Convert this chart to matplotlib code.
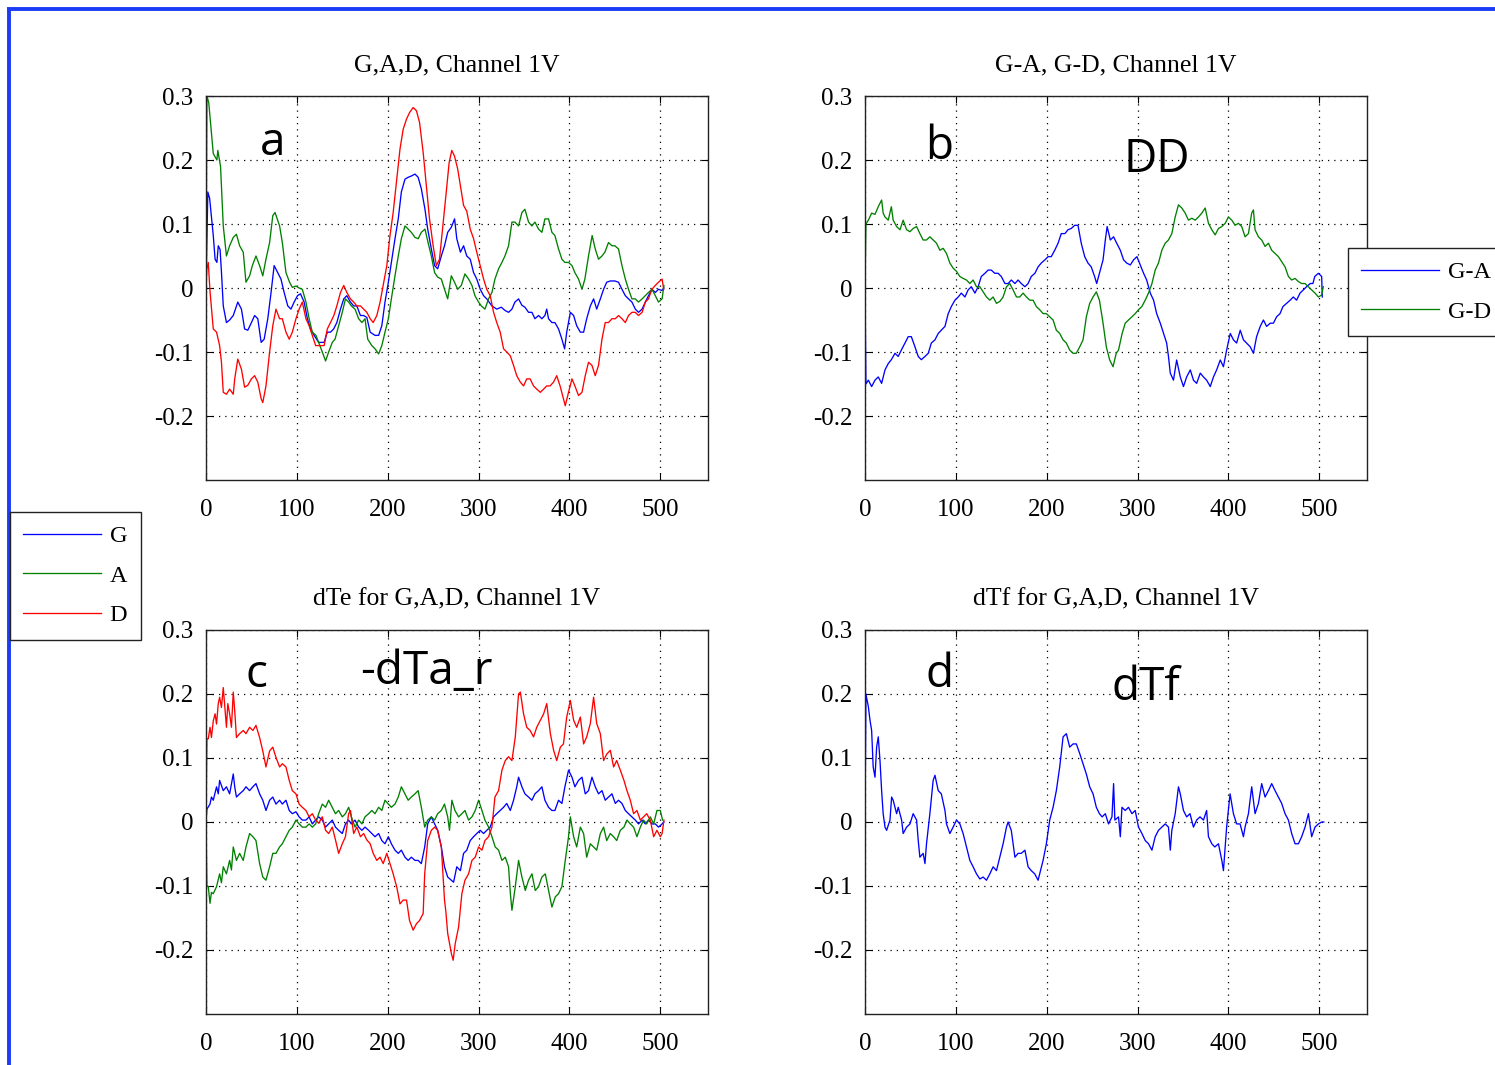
import matplotlib
matplotlib.use("Agg")
import matplotlib.pyplot as plt
from matplotlib.lines import Line2D

plt.rcParams['font.family'] = ['Liberation Serif', 'DejaVu Serif']
plt.rcParams['axes.unicode_minus'] = False

W, H = 1495, 1065

# ---------------- data: panel a (G, A, D) ----------------
a_G_x = [0, 2, 4, 8, 10, 12, 13.5, 15.5, 17, 19, 22.5, 26, 30, 33.5, 35, 39, 42.5, 46, 50, 53.5, 57, 60.7, 64, 68, 71.6, 75, 79, 82.5, 86, 90, 93.5, 97, 100.7, 104, 108, 111.6, 115, 119, 124, 130, 133.5, 137, 140.5, 144, 148, 151.6, 155, 159, 162.5, 166, 170, 173.5, 177, 180.7, 186, 190, 193.5, 197, 200.7, 204, 208, 211.6, 215, 219, 222.5, 226, 230, 233.5, 237, 241, 244, 248, 251.6, 255, 259, 262.5, 266, 270, 273.6, 276, 280, 283.5, 287, 290.8, 294.5, 298, 301.8, 305.5, 309, 314.7, 320, 325, 329, 333, 336.7, 340, 344, 347.7, 351, 355, 358.7, 362, 366, 369.7, 373, 375, 377, 380.7, 384, 388, 391.7, 394.7, 397, 401, 404.6, 408, 412, 415.6, 419, 423, 426.6, 430, 434, 437.6, 441, 445, 450, 454, 457.8, 461.5, 465, 468.8, 472.5, 476, 480, 483.5, 487, 490.8, 494.5, 498, 502, 504]
a_G_y = [0.0, 0.15, 0.14, 0.082, 0.045, 0.04, 0.066, 0.06, 0.025, -0.028, -0.054, -0.05, -0.043, -0.028, -0.022, -0.033, -0.064, -0.066, -0.054, -0.043, -0.048, -0.085, -0.08, -0.048, -0.007, 0.035, 0.024, 0.014, -0.007, -0.028, -0.033, -0.022, -0.012, -0.009, -0.022, -0.048, -0.064, -0.074, -0.085, -0.085, -0.069, -0.069, -0.064, -0.054, -0.033, -0.017, -0.012, -0.022, -0.028, -0.028, -0.043, -0.043, -0.046, -0.069, -0.074, -0.074, -0.059, -0.022, 0.009, 0.04, 0.077, 0.108, 0.15, 0.17, 0.173, 0.175, 0.178, 0.173, 0.155, 0.123, 0.092, 0.061, 0.035, 0.03, 0.05, 0.066, 0.087, 0.095, 0.108, 0.077, 0.056, 0.066, 0.05, 0.045, 0.024, 0.014, -0.002, -0.012, -0.017, -0.028, -0.033, -0.03, -0.035, -0.038, -0.033, -0.022, -0.017, -0.027, -0.03, -0.038, -0.038, -0.048, -0.043, -0.048, -0.043, -0.033, -0.048, -0.054, -0.054, -0.064, -0.08, -0.095, -0.069, -0.038, -0.043, -0.059, -0.069, -0.069, -0.048, -0.028, -0.017, -0.033, -0.017, -0.002, 0.009, 0.011, 0.011, 0.009, -0.002, -0.012, -0.017, -0.022, -0.033, -0.038, -0.033, -0.022, -0.012, -0.002, -0.007, -0.002, -0.004, 0.0]

a_A_x = [0, 1, 3, 8, 12, 13, 16, 19, 22.5, 26, 30, 33.5, 37, 41, 44, 48, 51, 55, 59, 62.5, 66, 70, 73.5, 76, 81, 84, 88, 92, 95, 99, 102.5, 106, 110, 113.5, 117, 121, 128, 131.6, 135, 139, 142, 146, 150, 153.5, 157, 160, 164, 168, 171.6, 175, 178, 182.5, 186, 190, 193.5, 197, 200.7, 204, 208, 211.6, 215, 219, 222.5, 226, 230, 233.5, 237, 241, 244.4, 248, 251.6, 255, 259, 262.5, 266, 270, 273.5, 277, 281, 285, 289, 292.7, 296, 300, 303, 307, 311, 314.7, 318, 322, 325.7, 329, 333, 336.7, 340, 344, 347.7, 351, 355, 358.7, 362, 366, 369.7, 373, 377, 380.7, 384, 388, 391.7, 395, 399, 402.8, 406, 410, 413.8, 417, 421, 425, 428.4, 432, 435.8, 439, 443, 446.8, 450, 454, 457.8, 461.5, 465, 468.8, 472.5, 476, 480, 483.5, 487, 490.8, 494.5, 498, 502, 504]
a_A_y = [0.0, 0.3, 0.29, 0.21, 0.2, 0.215, 0.19, 0.097, 0.05, 0.066, 0.079, 0.084, 0.066, 0.056, 0.009, 0.019, 0.035, 0.05, 0.035, 0.019, 0.045, 0.071, 0.113, 0.118, 0.097, 0.071, 0.024, 0.009, 0.001, 0.003, 0.0, -0.002, -0.022, -0.048, -0.069, -0.074, -0.1, -0.114, -0.1, -0.085, -0.08, -0.059, -0.038, -0.017, -0.022, -0.028, -0.033, -0.048, -0.054, -0.048, -0.08, -0.09, -0.095, -0.103, -0.09, -0.069, -0.048, -0.017, 0.019, 0.05, 0.077, 0.097, 0.092, 0.087, 0.079, 0.077, 0.087, 0.092, 0.071, 0.05, 0.024, 0.017, 0.014, -0.002, -0.017, 0.019, 0.009, -0.002, 0.004, 0.022, 0.014, 0.004, -0.012, -0.022, -0.028, -0.033, -0.017, -0.007, 0.014, 0.03, 0.04, 0.05, 0.066, 0.103, 0.103, 0.097, 0.118, 0.123, 0.103, 0.097, 0.103, 0.092, 0.087, 0.108, 0.108, 0.087, 0.082, 0.061, 0.045, 0.04, 0.04, 0.035, 0.024, 0.014, -0.002, 0.014, 0.05, 0.082, 0.061, 0.045, 0.05, 0.056, 0.071, 0.066, 0.066, 0.061, 0.035, 0.014, -0.002, -0.017, -0.017, -0.022, -0.017, -0.012, -0.007, -0.002, -0.012, -0.022, -0.017, 0.004]

a_D_x = [0, 1, 2.5, 4.4, 8, 11.6, 15, 17, 19, 22.5, 26, 30, 31.6, 35, 39, 42.5, 46, 50, 53.5, 57, 60.7, 62.5, 66, 70, 73.5, 77, 81, 84, 88, 91.6, 95, 99, 102.5, 106, 110, 113.5, 117, 120.7, 124, 130, 133.5, 137, 140.7, 144, 148, 151.6, 155, 159, 162.5, 166, 170, 173.5, 177, 180.7, 184, 188, 191.6, 195, 199, 202.5, 206, 210, 213.5, 217, 220.7, 224, 228, 231.6, 235, 239, 242.5, 246, 250, 253.5, 257, 260.7, 264, 267.6, 270.5, 273.5, 277, 280, 283.5, 287, 290.8, 294.5, 298, 301.8, 305.5, 309, 312.8, 316.5, 320, 323.8, 327.5, 331, 334.9, 338.5, 342, 345.9, 349.5, 353, 356.7, 360.5, 364, 368, 371.6, 375, 378.7, 382.5, 386, 389.7, 393.4, 395.4, 399, 402.8, 406, 410, 413.8, 417.4, 421, 424.8, 428.4, 432, 435.8, 439.4, 443, 446.8, 450.5, 454, 457.8, 461.5, 465, 468.8, 472.5, 476, 480, 483.5, 487, 490.8, 494.5, 498, 502, 503.7]
a_D_y = [0.0, 0.03, 0.04, -0.005, -0.064, -0.069, -0.09, -0.116, -0.163, -0.166, -0.158, -0.166, -0.142, -0.111, -0.127, -0.155, -0.152, -0.142, -0.137, -0.147, -0.173, -0.179, -0.153, -0.1, -0.059, -0.033, -0.048, -0.048, -0.069, -0.08, -0.069, -0.048, -0.033, -0.022, -0.048, -0.059, -0.074, -0.09, -0.09, -0.09, -0.064, -0.054, -0.043, -0.028, -0.007, 0.004, -0.007, -0.017, -0.022, -0.028, -0.028, -0.033, -0.038, -0.048, -0.054, -0.043, -0.022, 0.004, 0.035, 0.082, 0.118, 0.17, 0.217, 0.248, 0.264, 0.274, 0.282, 0.277, 0.259, 0.212, 0.16, 0.108, 0.066, 0.035, 0.045, 0.097, 0.144, 0.196, 0.215, 0.206, 0.186, 0.16, 0.129, 0.12, 0.092, 0.077, 0.056, 0.035, 0.014, -0.002, -0.012, -0.038, -0.054, -0.069, -0.095, -0.1, -0.106, -0.121, -0.137, -0.147, -0.153, -0.142, -0.142, -0.153, -0.158, -0.163, -0.158, -0.153, -0.153, -0.147, -0.137, -0.153, -0.173, -0.184, -0.163, -0.142, -0.153, -0.168, -0.163, -0.137, -0.116, -0.121, -0.137, -0.121, -0.08, -0.054, -0.054, -0.048, -0.048, -0.043, -0.048, -0.054, -0.043, -0.038, -0.038, -0.043, -0.038, -0.022, -0.017, -0.002, 0.004, 0.009, 0.014, -0.002]

# ---------------- data: panel b (G-A, G-D) ----------------
b_GA_x = [0, 1, 3.7, 7.3, 11, 14.6, 18.3, 22, 25.6, 29, 33, 36.5, 40, 44, 47.6, 51, 55, 58.6, 62, 66, 69.6, 73, 77, 80.6, 84, 88, 91.6, 95, 99, 102.6, 106, 110, 113.5, 117, 121, 124.5, 128, 132, 135.5, 139, 142.8, 146.5, 150, 154, 157.5, 161, 165, 168.5, 172, 176, 179.5, 183, 187, 190.5, 194, 198, 201.5, 205, 208.8, 212.5, 216, 220, 223.4, 227, 230.8, 234.4, 238, 241.8, 245.4, 249, 252.7, 255, 258, 262, 264.5, 266.5, 270, 273.6, 277, 281, 284.6, 288, 292, 295.6, 299.3, 303, 306.6, 310, 314, 317.6, 321, 325, 328.6, 332, 334, 336, 339.5, 343, 347, 350.5, 354, 358, 361.5, 365, 369, 372.5, 376, 380, 383.5, 387, 391, 394.5, 398, 402, 405.5, 409, 413, 416.5, 420, 424, 427.5, 431, 435, 438.5, 442, 446, 449.5, 453, 456.8, 460, 464, 468, 471.4, 475, 478.8, 482.4, 486, 490, 493, 495, 499, 502.6, 503.3]
b_GA_y = [0.0, -0.15, -0.144, -0.154, -0.144, -0.139, -0.149, -0.128, -0.118, -0.112, -0.102, -0.107, -0.097, -0.086, -0.076, -0.076, -0.092, -0.107, -0.112, -0.107, -0.102, -0.086, -0.081, -0.071, -0.066, -0.06, -0.04, -0.029, -0.019, -0.014, -0.008, -0.014, -0.003, 0.002, -0.008, 0.002, 0.018, 0.023, 0.028, 0.028, 0.023, 0.023, 0.018, 0.007, 0.007, 0.0125, 0.007, 0.0125, 0.007, 0.002, 0.007, 0.018, 0.023, 0.033, 0.039, 0.044, 0.049, 0.049, 0.059, 0.07, 0.085, 0.085, 0.091, 0.093, 0.098, 0.098, 0.07, 0.049, 0.039, 0.033, 0.018, 0.007, 0.023, 0.044, 0.075, 0.096, 0.075, 0.08, 0.07, 0.059, 0.044, 0.039, 0.036, 0.044, 0.049, 0.036, 0.023, 0.0125, -0.008, -0.019, -0.04, -0.055, -0.071, -0.086, -0.107, -0.133, -0.144, -0.1125, -0.139, -0.154, -0.139, -0.128, -0.144, -0.149, -0.133, -0.139, -0.144, -0.154, -0.139, -0.128, -0.1125, -0.123, -0.097, -0.071, -0.081, -0.086, -0.066, -0.081, -0.086, -0.092, -0.102, -0.076, -0.06, -0.05, -0.06, -0.055, -0.055, -0.045, -0.04, -0.029, -0.024, -0.019, -0.014, -0.019, -0.008, -0.003, 0.002, 0.007, 0.007, 0.018, 0.023, 0.018, -0.014]

b_GD_x = [0, 1, 3.7, 7.3, 11, 14.6, 18.3, 20, 22, 25.6, 29, 31, 34.8, 38.5, 42, 45.8, 49.5, 53, 56.8, 60.4, 64, 67.7, 71.4, 75, 78.7, 82.4, 86, 89.7, 93.4, 97, 100.7, 104.4, 108, 111.7, 115.4, 119, 122.7, 126.4, 130, 133.7, 137.4, 141, 144.7, 148.4, 152, 155.7, 159.3, 163, 166.7, 170.3, 174, 177.7, 181.3, 185, 188.6, 192.3, 196, 199.6, 203.3, 207, 210.6, 214.3, 218, 221.6, 225.3, 229, 232.6, 236.3, 240, 243.6, 247.3, 251, 254.6, 258, 262, 265.6, 269.3, 273, 276.5, 279, 283, 286.4, 290, 293.8, 297.4, 301, 304.7, 308.4, 312, 315.8, 319.4, 323, 326.7, 330.4, 334, 337.7, 341.4, 345, 348.7, 352.4, 356, 359.7, 363.4, 367, 370.7, 374.4, 378, 381.7, 385.4, 389, 392.7, 396.4, 400, 403.7, 407.3, 411, 414.6, 418.3, 422, 425.6, 427.5, 429.3, 433, 436.6, 440.3, 444, 447.6, 451.3, 455, 458.6, 462.3, 466, 469.6, 473.3, 477, 480.6, 484.3, 488, 491.6, 495.3, 499, 502.6, 504.4]
b_GD_y = [0.0, 0.1, 0.106, 0.117, 0.115, 0.127, 0.1375, 0.117, 0.111, 0.106, 0.127, 0.106, 0.096, 0.091, 0.106, 0.091, 0.088, 0.093, 0.096, 0.085, 0.075, 0.075, 0.08, 0.075, 0.07, 0.059, 0.062, 0.054, 0.039, 0.031, 0.026, 0.018, 0.015, 0.0125, 0.007, 0.0125, 0.002, 0.002, -0.006, -0.014, -0.019, -0.014, -0.024, -0.021, -0.014, 0.002, 0.007, -0.003, -0.014, -0.014, -0.008, -0.014, -0.019, -0.019, -0.029, -0.034, -0.04, -0.04, -0.045, -0.05, -0.066, -0.071, -0.081, -0.086, -0.097, -0.102, -0.102, -0.092, -0.081, -0.045, -0.024, -0.014, -0.006, -0.019, -0.055, -0.092, -0.1125, -0.123, -0.102, -0.097, -0.071, -0.055, -0.05, -0.045, -0.04, -0.034, -0.029, -0.019, -0.008, 0.007, 0.028, 0.039, 0.059, 0.07, 0.075, 0.085, 0.111, 0.13, 0.125, 0.117, 0.106, 0.109, 0.106, 0.111, 0.117, 0.125, 0.101, 0.091, 0.083, 0.093, 0.096, 0.101, 0.111, 0.106, 0.098, 0.101, 0.096, 0.08, 0.085, 0.117, 0.122, 0.091, 0.08, 0.075, 0.065, 0.07, 0.059, 0.054, 0.049, 0.041, 0.033, 0.018, 0.0125, 0.015, 0.01, 0.007, 0.007, 0.002, -0.003, -0.008, -0.014, -0.011, 0.002]

# ---------------- data: panel c (dTe for G, A, D) ----------------
c_G_x = [0, 1, 4.4, 6, 8, 11.6, 13.5, 15, 19, 22.5, 26, 30, 31.6, 33.5, 37, 41, 44, 48, 51.6, 55, 59, 62.5, 66, 70, 73.5, 77, 81, 84, 88, 91.6, 95, 99, 102.5, 106, 110, 113.5, 117, 120.7, 124, 128, 131.6, 135, 139, 142.5, 146, 150, 153.5, 157, 160, 164, 168, 171.6, 175, 179, 182.5, 186, 190, 193.5, 197, 200.7, 204, 208, 211.6, 215, 219, 222.5, 226, 230, 233.5, 237, 240.7, 244, 248, 251.6, 255, 259, 262.5, 266, 270, 272.5, 276, 280, 283.5, 287, 290.8, 294.5, 298, 301.8, 305.5, 309, 312.8, 316.5, 320, 323.8, 327.5, 331, 334.9, 338.5, 342, 344, 347.7, 351, 355, 358.7, 362, 366, 369.7, 373, 377, 380.7, 384, 388, 391.7, 395, 399, 402.8, 406, 410, 413.8, 417.4, 421, 424.8, 428.4, 432, 435.8, 439.4, 443, 446.8, 450.5, 454, 457.8, 461.5, 465, 468.8, 472.5, 476, 480, 483.5, 487, 490.8, 494.5, 498, 502, 504]
c_G_y = [0.0, 0.02, 0.028, 0.039, 0.034, 0.055, 0.044, 0.065, 0.049, 0.055, 0.044, 0.075, 0.055, 0.039, 0.044, 0.049, 0.055, 0.049, 0.055, 0.06, 0.044, 0.034, 0.018, 0.034, 0.039, 0.028, 0.034, 0.028, 0.034, 0.018, 0.013, 0.016, 0.008, 0.003, 0.003, 0.008, -0.003, 0.003, 0.008, 0.003, -0.008, -0.003, 0.003, -0.008, -0.013, -0.018, -0.003, 0.003, -0.003, 0.003, -0.008, -0.013, -0.008, -0.013, -0.018, -0.023, -0.018, -0.029, -0.034, -0.023, -0.034, -0.044, -0.049, -0.044, -0.055, -0.06, -0.055, -0.06, -0.06, -0.065, -0.039, -0.003, 0.008, -0.003, -0.013, -0.039, -0.07, -0.086, -0.091, -0.094, -0.07, -0.076, -0.049, -0.044, -0.029, -0.023, -0.018, -0.013, -0.018, -0.013, -0.008, 0.008, 0.013, 0.018, 0.023, 0.029, 0.018, 0.034, 0.055, 0.07, 0.055, 0.044, 0.039, 0.034, 0.044, 0.049, 0.055, 0.034, 0.023, 0.018, 0.018, 0.034, 0.029, 0.055, 0.081, 0.07, 0.055, 0.065, 0.07, 0.044, 0.049, 0.07, 0.055, 0.044, 0.049, 0.034, 0.039, 0.044, 0.029, 0.034, 0.029, 0.018, 0.013, 0.008, 0.003, -0.003, 0.003, -0.003, 0.003, -0.003, -0.003, -0.008, -0.003, 0.0]

c_A_x = [0, 1, 2.5, 4.4, 6, 8, 11.6, 15, 17, 19, 22.5, 26, 28, 30, 33.5, 37, 41, 44, 48, 51.6, 55, 59, 62.5, 66, 70, 73.5, 77, 81, 84, 88, 91.6, 95, 99, 102.5, 106, 110, 113.5, 117, 120.7, 124, 128, 131.6, 135, 139, 142.5, 146, 150, 153.5, 157, 160, 164, 168, 171.6, 175, 179, 182.5, 186, 190, 193.5, 197, 200.7, 204, 208, 211.6, 215, 219, 222.5, 226, 230, 233.5, 237, 240.7, 244, 248, 251.6, 255, 259, 262.5, 266, 268, 270.6, 274, 278, 281.6, 285, 289, 292.7, 296.3, 300, 303.7, 307, 311, 314.7, 318.3, 322, 325.7, 329.4, 333, 335, 336.7, 340.4, 344, 347.7, 351.4, 355, 358.7, 362.4, 366, 369.7, 373.4, 377, 380.7, 384.4, 388, 391.7, 395.4, 399, 401, 404.6, 408, 412, 415.6, 419, 423, 426.6, 430, 434, 437.6, 441, 445, 448.6, 452, 456, 460, 463.3, 467, 470.6, 474.3, 478, 481.6, 485, 489, 492.7, 496.3, 500, 502.5]
c_A_y = [0.0, -0.1, -0.101, -0.127, -0.11, -0.112, -0.101, -0.081, -0.095, -0.07, -0.081, -0.06, -0.075, -0.039, -0.06, -0.049, -0.06, -0.039, -0.018, -0.023, -0.029, -0.065, -0.086, -0.091, -0.07, -0.049, -0.049, -0.039, -0.034, -0.023, -0.013, -0.008, 0.003, -0.003, -0.008, -0.008, -0.003, -0.008, -0.003, 0.013, 0.028, 0.023, 0.034, 0.023, 0.013, 0.018, 0.008, 0.013, 0.023, 0.008, -0.008, 0.003, -0.003, 0.008, 0.013, 0.018, 0.013, 0.023, 0.018, 0.034, 0.028, 0.023, 0.028, 0.039, 0.055, 0.044, 0.034, 0.039, 0.044, 0.049, 0.023, -0.008, 0.003, 0.008, 0.003, 0.013, 0.018, 0.028, 0.008, -0.013, 0.034, 0.018, 0.008, 0.013, 0.018, 0.003, 0.008, 0.018, 0.034, 0.018, 0.003, -0.008, -0.023, -0.039, -0.044, -0.06, -0.055, -0.07, -0.112, -0.138, -0.101, -0.06, -0.086, -0.107, -0.091, -0.081, -0.107, -0.101, -0.086, -0.081, -0.107, -0.133, -0.117, -0.112, -0.101, -0.06, -0.023, 0.008, -0.023, -0.039, -0.008, -0.018, -0.055, -0.034, -0.039, -0.044, -0.018, -0.008, -0.029, -0.018, -0.023, -0.029, -0.013, -0.008, 0.003, -0.003, -0.008, -0.023, -0.008, 0.003, -0.003, 0.008, -0.003, 0.018, 0.018, 0.003]

c_D_x = [0, 1, 2.5, 4.4, 6, 8, 10, 11.6, 13.5, 15, 17, 19, 21, 22.5, 24, 26, 28, 30, 31.6, 33.5, 37, 41, 44, 48, 51.6, 55, 59, 62.5, 66, 70, 73.5, 77, 81, 84, 88, 91.6, 95, 99, 102.5, 106, 110, 113.5, 117, 120.7, 124, 128, 131.6, 135, 139, 142.5, 146, 150, 153.5, 157, 159, 162.5, 166, 170, 173.5, 177, 180.7, 184, 188, 191.6, 195, 199, 202.5, 206, 210, 213.5, 217, 220.7, 224, 228, 231.6, 235, 239, 240.7, 244, 248, 251.6, 255, 259, 262.5, 264, 266, 270, 272, 274.3, 278, 281.6, 285, 289, 292.7, 296.3, 300, 303.7, 307, 311, 314.7, 318, 322, 325.7, 329.4, 333, 336.7, 340.4, 344, 346, 349.5, 353, 356.7, 360.5, 364, 368, 371.6, 375, 379, 382.6, 386, 390, 393.4, 397, 401, 404.6, 408, 412, 415.6, 419, 423, 426.6, 430, 434, 437.6, 441, 445, 448.6, 452, 456, 460, 463.3, 467, 470.6, 474.3, 478, 481.6, 485, 489, 492.7, 496.3, 500, 502, 504]
c_D_y = [0.0, 0.13, 0.13, 0.148, 0.132, 0.158, 0.169, 0.153, 0.185, 0.195, 0.179, 0.21, 0.174, 0.148, 0.185, 0.169, 0.148, 0.203, 0.174, 0.132, 0.138, 0.143, 0.138, 0.148, 0.143, 0.151, 0.132, 0.111, 0.086, 0.111, 0.117, 0.101, 0.086, 0.091, 0.086, 0.065, 0.049, 0.044, 0.028, 0.023, 0.018, 0.008, 0.013, 0.003, -0.002, 0.008, -0.013, -0.018, -0.008, -0.028, -0.049, -0.034, -0.023, 0.013, 0.018, -0.018, -0.008, -0.023, -0.018, -0.028, -0.034, -0.049, -0.06, -0.055, -0.065, -0.049, -0.065, -0.081, -0.102, -0.128, -0.122, -0.122, -0.154, -0.169, -0.159, -0.154, -0.143, -0.081, -0.029, -0.013, -0.008, -0.013, -0.039, -0.122, -0.14, -0.174, -0.205, -0.216, -0.19, -0.164, -0.112, -0.091, -0.081, -0.06, -0.055, -0.039, -0.044, -0.029, -0.023, -0.008, 0.039, 0.049, 0.081, 0.096, 0.102, 0.096, 0.133, 0.2, 0.203, 0.169, 0.148, 0.143, 0.133, 0.148, 0.159, 0.169, 0.185, 0.138, 0.112, 0.096, 0.117, 0.122, 0.164, 0.19, 0.159, 0.148, 0.164, 0.122, 0.133, 0.154, 0.195, 0.154, 0.138, 0.096, 0.106, 0.112, 0.086, 0.096, 0.081, 0.065, 0.049, 0.034, 0.013, 0.018, 0.003, 0.008, 0.013, 0.003, -0.023, -0.013, -0.023, -0.018, 0.003]

# ---------------- data: panel d (dTf) ----------------
d_x = [0, 1, 3.7, 5.5, 7.3, 9, 11, 12.8, 14.6, 16.5, 18.3, 20, 22, 23.8, 25.6, 27.5, 29.3, 31, 34.8, 36.6, 40.3, 42, 45.8, 49.5, 53, 56.8, 58.6, 60.4, 64, 66, 67.7, 71.4, 75, 77, 80.6, 84, 88, 89.7, 93.4, 97, 100.7, 104.4, 108, 111.7, 115.4, 119, 122.7, 126.4, 130, 133.7, 137.4, 141, 144.7, 148.4, 152, 155.7, 157.5, 161, 165, 168.5, 172, 176, 179.5, 183, 186.8, 190.5, 192.3, 196, 199.6, 203.3, 207, 210.6, 214.3, 218, 221.6, 225.3, 229, 232.6, 236.3, 240, 243.6, 247.3, 251, 254.6, 258, 261, 264.5, 268, 271.8, 273.6, 275, 279, 281, 282.8, 286.4, 290, 293.8, 297.4, 301, 304.8, 308.4, 312, 315.8, 319.4, 323, 326.7, 330.4, 334, 336, 337.7, 341.4, 345, 347, 350.5, 354, 357.7, 361.5, 365, 368.7, 372.5, 376, 378, 381.7, 385, 389, 392.7, 394.5, 398, 401.8, 405.5, 409, 412.8, 416.5, 418.3, 422, 425.6, 429.3, 433, 436.6, 440.3, 444, 447.6, 451.3, 455, 458.6, 462.3, 466, 469.6, 473.3, 477, 480.6, 484.3, 488, 491.6, 495.3, 499, 502.6, 505]
d_y = [0.0, 0.2, 0.18, 0.159, 0.143, 0.086, 0.07, 0.117, 0.133, 0.096, 0.049, 0.013, -0.008, -0.013, -0.005, 0.003, 0.039, 0.034, 0.013, 0.023, 0.003, -0.018, -0.008, -0.003, 0.013, 0.003, -0.029, -0.055, -0.049, -0.065, -0.034, 0.013, 0.065, 0.073, 0.049, 0.044, 0.018, -0.003, -0.018, -0.008, 0.003, -0.003, -0.018, -0.039, -0.06, -0.07, -0.081, -0.089, -0.086, -0.091, -0.081, -0.07, -0.076, -0.055, -0.034, -0.008, 0.0, -0.013, -0.055, -0.049, -0.049, -0.044, -0.07, -0.076, -0.081, -0.091, -0.081, -0.06, -0.034, 0.003, 0.023, 0.049, 0.086, 0.133, 0.138, 0.117, 0.122, 0.122, 0.107, 0.091, 0.075, 0.055, 0.044, 0.023, 0.013, 0.008, 0.013, -0.003, 0.008, 0.06, 0.003, 0.008, -0.023, 0.023, 0.018, 0.023, 0.013, 0.018, -0.008, -0.018, -0.029, -0.034, -0.044, -0.023, -0.013, -0.008, -0.003, -0.008, -0.044, -0.013, 0.013, 0.055, 0.044, 0.018, 0.008, 0.013, -0.008, 0.003, 0.008, 0.003, 0.018, -0.023, -0.034, -0.039, -0.034, -0.06, -0.076, -0.008, 0.044, 0.013, -0.003, -0.003, -0.023, -0.008, 0.013, 0.055, 0.013, 0.029, 0.06, 0.039, 0.049, 0.06, 0.049, 0.039, 0.029, 0.013, 0.003, -0.018, -0.034, -0.034, -0.023, -0.008, 0.013, -0.023, -0.008, -0.003, 0.0, 0.0]

# ---------------- text ----------------
titles = ["G,A,D, Channel 1V", "G-A, G-D, Channel 1V",
          "dTe for G,A,D, Channel 1V", "dTf for G,A,D, Channel 1V"]
xticks = [0, 100, 200, 300, 400, 500]
yticks = [-0.2, -0.1, 0, 0.1, 0.2, 0.3]
yticklabels = ["-0.2", "-0.1", "0", "0.1", "0.2", "0.3"]
legend1_labels = ["G", "A", "D"]
legend2_labels = ["G-A", "G-D"]

BLUE, GREEN, RED = '#0000ff', '#008000', '#ff0000'
LW = 0.95

fig = plt.figure(figsize=(W / 100, H / 100), dpi=100)
fig.patch.set_facecolor('white')


def make_ax(left_px, top_px, title):
    ax = fig.add_axes([left_px / W, 1 - (top_px + 384) / H, 502 / W, 384 / H])
    ax.set_xlim(0, 552.5)
    ax.set_ylim(-0.3, 0.3)
    ax.set_xticks(xticks)
    ax.set_xticklabels([str(t) for t in xticks])
    ax.set_yticks(yticks)
    ax.set_yticklabels(yticklabels)
    ax.tick_params(direction='in', top=True, right=True, length=5, width=0.8,
                   labelsize=18)
    ax.tick_params(axis='x', pad=13.5)
    ax.tick_params(axis='y', pad=9)
    ax.grid(True, linestyle=(0, (1, 4)), color='black', linewidth=0.9)
    for s in ax.spines.values():
        s.set_linewidth(1.0)
        s.set_color('#222222')
    ax.set_title(title, fontsize=18.5, pad=18)
    return ax


ax_a = make_ax(206, 96, titles[0])
ax_b = make_ax(865, 96, titles[1])
ax_c = make_ax(206, 630, titles[2])
ax_d = make_ax(865, 630, titles[3])

lg, = ax_a.plot(a_G_x, a_G_y, color=BLUE, lw=LW)
la, = ax_a.plot(a_A_x, a_A_y, color=GREEN, lw=LW)
ld, = ax_a.plot(a_D_x, a_D_y, color=RED, lw=LW)

lga, = ax_b.plot(b_GA_x, b_GA_y, color=BLUE, lw=LW)
lgd, = ax_b.plot(b_GD_x, b_GD_y, color=GREEN, lw=LW)

ax_c.plot(c_G_x, c_G_y, color=BLUE, lw=LW)
ax_c.plot(c_A_x, c_A_y, color=GREEN, lw=LW)
ax_c.plot(c_D_x, c_D_y, color=RED, lw=LW)

ax_d.plot(d_x, d_y, color=BLUE, lw=LW)

# legends
leg_kw = dict(loc='upper left', fontsize=17.5, handlelength=3.2,
              handletextpad=0.35, labelspacing=0.72, borderpad=0.55,
              borderaxespad=0, fancybox=False, edgecolor='#222222',
              framealpha=1)
leg1 = fig.legend([lg, la, ld], legend1_labels,
                  bbox_to_anchor=(10 / W, 1 - 512 / H), **leg_kw)
leg1.get_frame().set_linewidth(1.0)
leg2 = fig.legend([lga, lgd], legend2_labels,
                  bbox_to_anchor=(1348 / W, 1 - 248 / H), **leg_kw)
leg2.get_frame().set_linewidth(1.0)

# big panel annotations
ann_font = dict(family=['Open Sans', 'DejaVu Sans'], fontsize=33, color='black',
                ha='left', va='baseline')
for txt, xp, yp in [("a", 260, 155), ("b", 925, 159), ("DD", 1124, 172),
                    ("c", 246, 687), ("-dTa_r", 360, 684), ("d", 925, 687),
                    ("dTf", 1111, 700)]:
    fig.text(xp / W, 1 - yp / H, txt, **ann_font)

# blue frame of the screenshot
frame_col = '#1a3cf5'
fig.add_artist(Line2D([9 / W, 9 / W], [0, 1 - 9 / H], transform=fig.transFigure,
                      color=frame_col, lw=2.8, solid_capstyle='butt'))
fig.add_artist(Line2D([7 / W, 1], [1 - 9 / H, 1 - 9 / H], transform=fig.transFigure,
                      color=frame_col, lw=2.8, solid_capstyle='butt'))

fig.savefig("out.png", dpi=100, facecolor='white')
